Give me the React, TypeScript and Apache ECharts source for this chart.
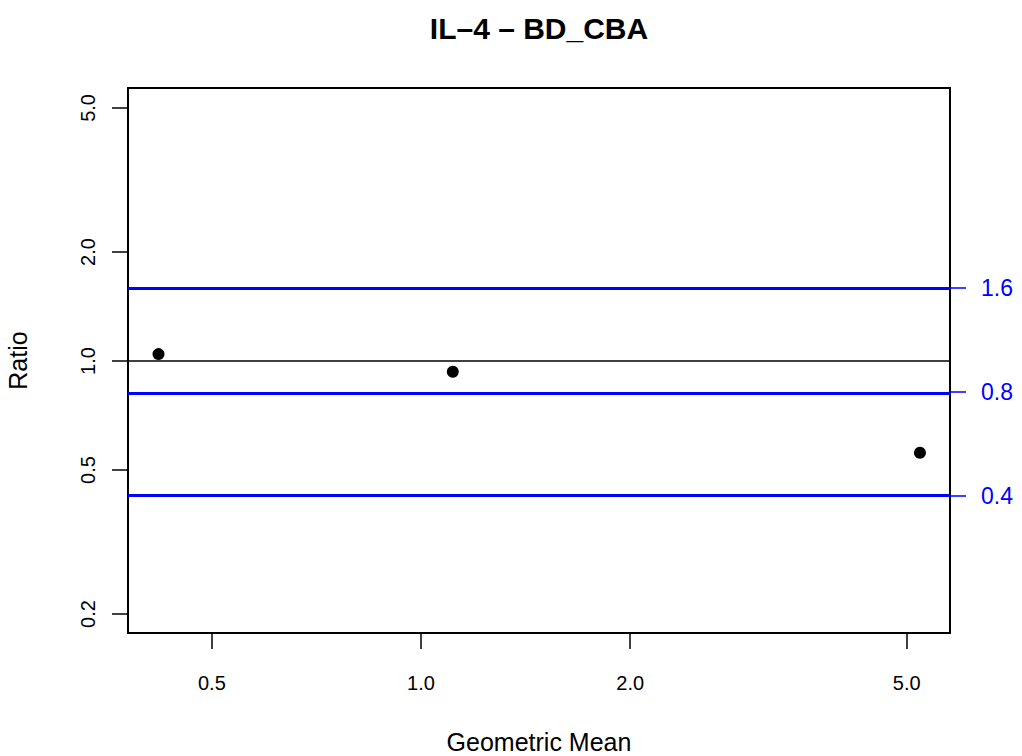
import React, { useEffect, useRef } from "react";
import * as echarts from "echarts";

const titleText = "IL–4 – BD_CBA";
const xName = "Geometric Mean";
const yName = "Ratio";

const geoMean = [0.419, 1.111, 5.224];
const ratio = [1.045, 0.934, 0.558];

const xTicks = [0.5, 1.0, 2.0, 5.0];
const yTicks = [0.2, 0.5, 1.0, 2.0, 5.0];

const refValue = 1.0;
const limitValues = [1.591, 0.821, 0.424];
const limitLabels = ["1.6", "0.8", "0.4"];

const xRange = [0.3787, 5.771];
const yRange = [0.1773, 5.677];

const FONT = '"Liberation Sans", Arial, Helvetica, sans-serif';
const L = (v: number) => Math.log10(v);

export default function App() {
  const ref = useRef<HTMLDivElement>(null);
  useEffect(() => {
    if (!ref.current) return;
    const chart = echarts.init(ref.current, null, { renderer: "svg" });
    const tickStyle = { color: "#000", width: 1.5 };
    const findLabel = (v: number, ticks: number[], labels: string[]) => {
      let best = 0;
      ticks.forEach((t, i) => {
        if (Math.abs(L(t) - v) < Math.abs(L(ticks[best]) - v)) best = i;
      });
      return labels[best];
    };
    chart.setOption({
      animation: false,
      textStyle: { fontFamily: FONT },
      grid: {
        left: 128,
        right: 72,
        top: 88,
        bottom: 123,
        containLabel: false,
        outerBoundsMode: "none",
        show: true,
        borderColor: "#000",
        borderWidth: 2,
        backgroundColor: "transparent",
      },
      graphic: [
        {
          type: "text",
          x: 539,
          y: 28,
          style: {
            text: titleText,
            font: `bold 30px ${FONT}`,
            fill: "#000",
            textAlign: "center",
            textVerticalAlign: "middle",
          },
        },
      ],
      xAxis: {
        type: "value",
        min: L(xRange[0]),
        max: L(xRange[1]),
        name: xName,
        nameLocation: "middle",
        nameGap: 96,
        nameTextStyle: { fontSize: 25, color: "#000", fontFamily: FONT },
        axisLine: { show: false, onZero: false },
        splitLine: { show: false },
        axisTick: {
          show: true,
          length: 16,
          lineStyle: tickStyle,
          customValues: xTicks.map(L),
        },
        axisLabel: {
          show: true,
          fontSize: 20,
          color: "#000",
          fontFamily: FONT,
          margin: 40,
          customValues: xTicks.map(L),
          formatter: (v: number) =>
            findLabel(v, xTicks, xTicks.map((t) => t.toFixed(1))),
        },
      },
      yAxis: [
        {
          type: "value",
          min: L(yRange[0]),
          max: L(yRange[1]),
          name: yName,
          nameLocation: "middle",
          nameGap: 98,
          nameTextStyle: { fontSize: 25, color: "#000", fontFamily: FONT },
          axisLine: { show: false, onZero: false },
          splitLine: { show: false },
          axisTick: {
            show: true,
            length: 16,
            lineStyle: tickStyle,
            customValues: yTicks.map(L),
          },
          axisLabel: {
            show: true,
            rotate: 90,
            fontSize: 20,
            color: "#000",
            fontFamily: FONT,
            margin: 30,
            customValues: yTicks.map(L),
            formatter: (v: number) =>
              findLabel(v, yTicks, yTicks.map((t) => t.toFixed(1))),
          },
        },
        {
          type: "value",
          position: "right",
          min: L(yRange[0]),
          max: L(yRange[1]),
          axisLine: { show: false, onZero: false },
          splitLine: { show: false },
          axisTick: {
            show: true,
            length: 16,
            lineStyle: { color: "#0000ff", width: 1.5 },
            customValues: limitValues.map(L),
          },
          axisLabel: {
            show: true,
            fontSize: 23,
            color: "#0000ff",
            fontFamily: FONT,
            margin: 31,
            customValues: limitValues.map(L),
            formatter: (v: number) => findLabel(v, limitValues, limitLabels),
          },
        },
      ],
      series: [
        {
          type: "scatter",
          yAxisIndex: 0,
          symbol: "circle",
          symbolSize: 12,
          itemStyle: { color: "#000", opacity: 1 },
          data: geoMean.map((g, i) => [L(g), L(ratio[i])]),
          markLine: {
            silent: true,
            symbol: ["none", "none"],
            label: { show: false },
            emphasis: { disabled: true },
            data: [
              { yAxis: L(refValue), lineStyle: { color: "#000", width: 1.5, type: "solid", opacity: 1 } },
              ...limitValues.map((v) => ({
                yAxis: L(v),
                lineStyle: { color: "#0000ff", width: 3, type: "solid", opacity: 1 },
              })),
            ],
          },
        },
      ],
    });
    return () => chart.dispose();
  }, []);
  return (
    <div
      ref={ref}
      style={{ position: "fixed", left: 0, top: 0, width: 1022, height: 756, background: "#fff" }}
    />
  );
}
